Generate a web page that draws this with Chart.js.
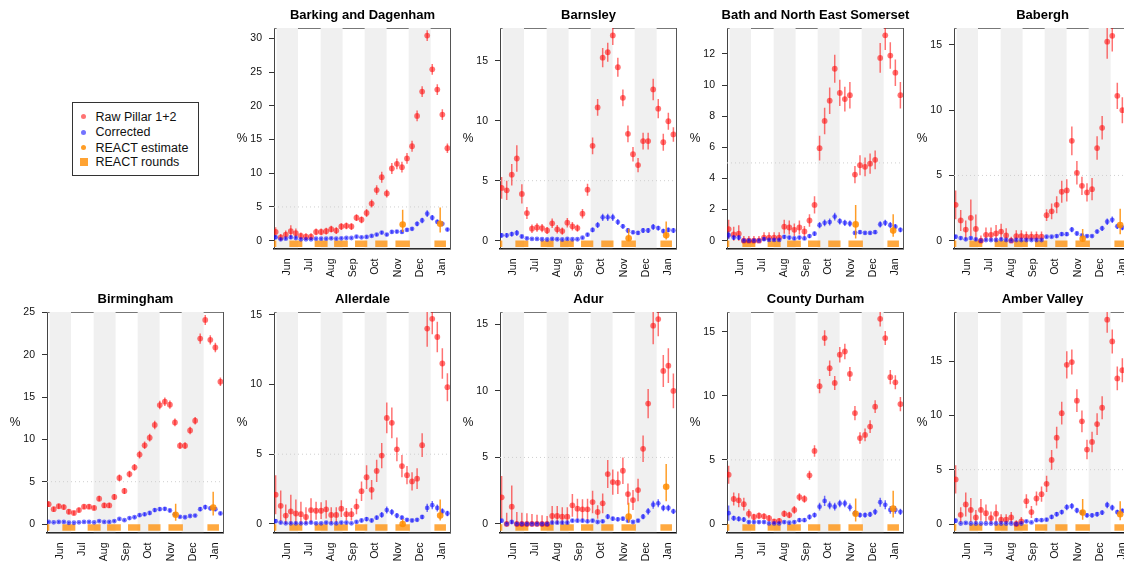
<!DOCTYPE html>
<html>
<head>
<meta charset="utf-8">
<script src="https://cdn.jsdelivr.net/npm/chart.js@4.4.1/dist/chart.umd.min.js"></script>
<style>
  body { margin: 0; width: 1124px; height: 563px; overflow: hidden; background: #fff; position: relative;
         font-family: 'Liberation Sans', Arial, Helvetica, sans-serif; }
  .cell { position: absolute; width: 227px; height: 279px; }
  .ttl { position: absolute; left: 35.5px; width: 200px; top: 7px; height: 16px; line-height: 16px; text-align: center;
         font-size: 13px; font-weight: bold; color: #000; white-space: nowrap; }
  #legend { position: absolute; left: 71.5px; top: 101.5px; width: 127px; height: 74px; border: 1px solid #333;
            box-sizing: border-box; font-size: 12.5px; color: #111; }
  .item { position: absolute; left: 23px; line-height: 14px; white-space: nowrap; }
  .mark { position: absolute; left: -15px; top: 4.5px; width: 5px; height: 5px; border-radius: 50%; }
  .sq { left: -16px; top: 2.5px; width: 8px; height: 8px; border-radius: 0; }
</style>
</head>
<body>
<div id="legend">
  <div class="item" style="top:7px"><span class="mark" style="background:rgba(255,0,0,0.55)"></span>Raw Pillar 1+2</div>
  <div class="item" style="top:22.5px"><span class="mark" style="background:rgba(0,0,255,0.55)"></span>Corrected</div>
  <div class="item" style="top:38px"><span class="mark" style="background:rgba(255,140,0,0.85)"></span>REACT estimate</div>
  <div class="item" style="top:52.5px"><span class="mark sq" style="background:rgba(255,140,0,0.8)"></span>REACT rounds</div>
</div>
<script>
// weekly sample dates (x of raw + corrected points)
const weeks = ['2020-05-31','2020-06-07','2020-06-14','2020-06-21','2020-06-28','2020-07-05','2020-07-12',
  '2020-07-19','2020-07-26','2020-08-02','2020-08-09','2020-08-16','2020-08-23','2020-08-30','2020-09-06',
  '2020-09-13','2020-09-20','2020-09-27','2020-10-04','2020-10-11','2020-10-18','2020-10-25','2020-11-01',
  '2020-11-08','2020-11-15','2020-11-22','2020-11-29','2020-12-06','2020-12-13','2020-12-20','2020-12-27',
  '2021-01-03','2021-01-10','2021-01-17','2021-01-24'];
const monthStarts = ['2020-06-01','2020-07-01','2020-08-01','2020-09-01','2020-10-01','2020-11-01','2020-12-01','2021-01-01','2021-02-01'];
const monthNames = ['Jun','Jul','Aug','Sep','Oct','Nov','Dec','Jan'];
const roundStart = ['2020-05-01','2020-06-19','2020-07-24','2020-08-20','2020-09-18','2020-10-16','2020-11-13','2021-01-06'];
const roundEnd   = ['2020-06-01','2020-07-07','2020-08-11','2020-09-08','2020-10-05','2020-11-02','2020-12-03','2021-01-22'];
const estDates = ['2020-11-23','2021-01-14'];

// Barking and Dagenham
const rawBarking = [1.3,0.5,0.9,1.4,1.1,0.7,0.6,0.6,1.3,1.3,1.4,1.7,1.5,2.1,2.2,2.1,3.4,3.1,4.1,5.5,7.5,9.4,7.0,10.7,11.4,10.9,12.2,14.0,18.5,22.1,30.4,25.4,22.4,18.7,13.7];
const rawErrBarking = [0.7,0.5,0.6,0.9,0.7,0.5,0.5,0.5,0.5,0.5,0.5,0.5,0.5,0.5,0.5,0.5,0.5,0.5,0.6,0.6,0.7,0.8,0.6,0.8,0.8,0.8,0.8,0.8,0.8,0.8,0.8,0.8,0.8,0.8,0.7];
const corBarking = [0.5,0.2,0.3,0.5,0.4,0.2,0.2,0.2,0.3,0.3,0.3,0.35,0.3,0.35,0.4,0.4,0.6,0.5,0.55,0.7,0.9,1.2,0.9,1.3,1.35,1.3,1.6,1.75,2.5,3.0,4.0,3.4,2.8,2.5,1.65];
const corErrBarking = [0.3,0.15,0.15,0.25,0.2,0.15,0.1,0.1,0.15,0.15,0.15,0.15,0.15,0.15,0.15,0.15,0.2,0.15,0.2,0.2,0.2,0.25,0.2,0.25,0.25,0.25,0.25,0.25,0.35,0.4,0.5,0.4,0.35,0.35,0.25];
const estBarking = [2.4,2.5], estLoBarking = [1.3,1.2], estHiBarking = [4.6,4.9];

// Barnsley
const rawBarnsley = [4.4,4.2,5.5,6.85,3.9,2.3,1.0,1.1,1.05,0.85,1.45,0.95,0.8,1.5,1.2,1.05,2.25,4.25,7.9,11.1,15.25,15.7,17.1,14.45,11.9,8.9,7.2,6.3,8.3,8.3,12.6,11.0,8.2,9.95,8.85];
const rawErrBarnsley = [0.9,0.8,0.9,1.1,0.8,0.5,0.35,0.35,0.35,0.3,0.4,0.35,0.3,0.4,0.35,0.3,0.4,0.5,0.7,0.7,0.8,0.8,0.8,0.8,0.7,0.7,0.6,0.6,0.7,0.7,0.9,0.8,0.7,0.7,0.6];
const corBarnsley = [0.45,0.45,0.55,0.65,0.35,0.2,0.15,0.15,0.12,0.1,0.15,0.12,0.1,0.15,0.12,0.12,0.25,0.5,0.9,1.3,1.95,1.95,1.95,1.55,1.2,0.85,0.7,0.65,0.85,0.85,1.15,1.05,0.8,0.9,0.85];
const corErrBarnsley = [0.2,0.2,0.2,0.25,0.15,0.1,0.08,0.08,0.08,0.08,0.1,0.08,0.08,0.1,0.08,0.08,0.1,0.15,0.2,0.25,0.3,0.3,0.3,0.25,0.2,0.2,0.15,0.15,0.2,0.2,0.25,0.2,0.2,0.2,0.2];
const estBarnsley = [0.2,0.45], estLoBarnsley = [0.0,0.1], estHiBarnsley = [1.0,1.6];

// Bath and North East Somerset
const rawBath = [0.75,0.4,0.45,0.0,0.0,0.0,0.0,0.2,0.2,0.2,0.2,0.9,0.85,0.7,0.85,0.6,1.3,2.3,5.95,7.7,9.0,11.05,9.5,9.1,9.35,4.25,4.85,4.75,4.95,5.2,11.75,13.2,11.9,10.8,9.35];
const rawErrBath = [0.6,0.5,0.55,0.3,0.3,0.3,0.3,0.35,0.35,0.35,0.35,0.45,0.45,0.4,0.45,0.35,0.4,0.55,0.8,0.85,0.85,0.9,0.85,0.8,0.85,0.55,0.65,0.6,0.65,0.6,0.95,0.95,0.85,0.85,0.85];
const corBath = [0.35,0.2,0.2,0.0,0.0,0.0,0.0,0.1,0.05,0.05,0.05,0.25,0.2,0.15,0.2,0.15,0.3,0.45,1.0,1.15,1.2,1.55,1.25,1.15,1.1,0.5,0.55,0.5,0.5,0.55,1.05,1.15,1.0,0.9,0.7];
const corErrBath = [0.25,0.15,0.15,0.1,0.1,0.1,0.1,0.1,0.08,0.08,0.08,0.12,0.12,0.1,0.12,0.1,0.12,0.15,0.2,0.22,0.22,0.25,0.2,0.2,0.2,0.1,0.12,0.1,0.1,0.12,0.2,0.2,0.2,0.18,0.15];
const estBath = [1.05,0.65], estLoBath = [0.15,0.25], estHiBath = [2.3,1.7];

// Babergh
const rawBabergh = [2.75,1.55,0.85,1.75,0.9,0.0,0.45,0.45,0.55,0.7,0.4,0.0,0.35,0.35,0.3,0.3,0.3,0.3,1.95,2.25,2.75,3.75,3.85,7.65,5.2,4.2,3.7,3.95,7.1,8.65,15.25,15.7,11.1,10.0,8.8];
const rawErrBabergh = [1.1,0.8,0.7,1.4,1.1,0.4,0.55,0.55,0.65,0.6,0.55,0.3,0.45,0.45,0.4,0.4,0.4,0.4,0.45,0.6,0.65,0.85,0.85,1.1,0.9,0.7,0.7,0.85,0.9,0.9,1.3,1.2,1.0,1.0,1.0];
const corBabergh = [0.3,0.2,0.1,0.2,0.1,0.0,0.05,0.05,0.05,0.1,0.05,0.0,0.05,0.05,0.05,0.05,0.05,0.05,0.3,0.3,0.35,0.5,0.5,0.85,0.55,0.4,0.35,0.35,0.7,0.95,1.45,1.6,1.1,1.0,0.9];
const corErrBabergh = [0.15,0.12,0.08,0.12,0.08,0.05,0.05,0.05,0.05,0.08,0.05,0.05,0.05,0.05,0.05,0.05,0.05,0.05,0.1,0.1,0.12,0.15,0.15,0.2,0.15,0.12,0.1,0.1,0.15,0.2,0.25,0.25,0.2,0.2,0.2];
const estBabergh = [0.15,1.2], estLoBabergh = [0.0,0.5], estHiBabergh = [0.9,2.45];

// Birmingham
const rawBirmingham = [2.35,1.75,2.1,2.0,1.45,1.3,1.65,2.05,2.05,1.9,3.0,2.2,2.2,3.2,5.45,3.9,5.9,6.7,8.2,9.3,10.2,11.7,14.05,14.45,14.1,12.0,9.25,9.25,11.05,12.2,21.9,24.1,21.75,20.85,16.8];
const rawErrBirmingham = [0.35,0.3,0.3,0.3,0.3,0.25,0.3,0.3,0.3,0.3,0.35,0.3,0.3,0.35,0.4,0.35,0.4,0.4,0.45,0.45,0.45,0.5,0.5,0.5,0.5,0.45,0.4,0.4,0.45,0.45,0.6,0.6,0.55,0.55,0.5];
const corBirmingham = [0.25,0.2,0.25,0.25,0.15,0.15,0.2,0.25,0.25,0.2,0.35,0.25,0.25,0.35,0.6,0.45,0.7,0.8,1.05,1.15,1.3,1.65,1.75,1.8,1.6,1.15,0.85,0.8,0.95,1.0,1.75,2.0,1.85,1.75,1.25];
const corErrBirmingham = [0.1,0.08,0.1,0.1,0.08,0.08,0.08,0.1,0.1,0.08,0.12,0.1,0.1,0.12,0.15,0.12,0.15,0.15,0.18,0.2,0.2,0.22,0.22,0.22,0.2,0.18,0.15,0.15,0.15,0.15,0.25,0.28,0.25,0.25,0.2];
const estBirmingham = [1.1,1.95], estLoBirmingham = [0.4,1.0], estHiBirmingham = [2.4,3.8];

// Allerdale
const rawAllerdale = [2.1,1.3,0.6,0.9,0.75,0.7,0.5,1.0,0.95,0.95,1.05,0.65,0.65,1.1,0.7,0.7,1.25,2.35,3.35,2.45,3.8,4.9,7.6,7.25,5.35,4.15,3.5,3.05,3.25,5.65,14.0,14.7,13.4,11.5,9.8];
const rawErrAllerdale = [1.4,1.1,0.8,1.2,1.0,0.9,0.7,0.85,0.65,0.6,0.65,0.55,0.55,0.6,0.45,0.45,0.55,0.7,0.85,0.7,0.8,0.9,1.1,1.1,0.85,0.8,0.65,0.65,0.75,0.85,1.3,1.1,1.1,1.1,1.0];
const corAllerdale = [0.2,0.1,0.05,0.05,0.05,0.05,0.05,0.1,0.05,0.05,0.1,0.05,0.05,0.1,0.1,0.05,0.15,0.25,0.35,0.25,0.45,0.65,1.0,0.85,0.6,0.45,0.3,0.25,0.3,0.5,1.15,1.35,1.15,0.9,0.75];
const corErrAllerdale = [0.15,0.08,0.05,0.05,0.05,0.05,0.05,0.08,0.05,0.05,0.08,0.05,0.05,0.08,0.08,0.05,0.1,0.12,0.15,0.12,0.15,0.2,0.25,0.22,0.18,0.15,0.12,0.1,0.12,0.15,0.3,0.3,0.25,0.22,0.2];
const estAllerdale = [0.0,0.6], estLoAllerdale = [0.0,0.25], estHiAllerdale = [0.35,1.75];

// Adur
const rawAdur = [2.0,0.0,1.3,0.0,0.0,0.0,0.0,0.0,0.0,0.0,0.6,0.6,0.55,0.55,1.4,1.15,1.1,1.1,1.65,0.9,1.55,3.75,3.15,3.1,4.0,2.25,1.8,2.55,5.65,9.05,14.9,15.4,11.5,11.9,10.0];
const rawErrAdur = [1.6,0.85,1.6,0.9,0.85,0.8,0.75,0.7,0.65,0.6,0.75,0.75,0.7,0.7,0.85,0.75,0.75,0.8,0.85,0.5,0.75,1.05,0.95,0.85,1.0,0.8,0.75,0.85,1.0,1.1,1.4,1.3,1.2,1.3,1.3];
const corAdur = [0.25,0.0,0.15,0.0,0.0,0.0,0.0,0.0,0.0,0.0,0.1,0.1,0.1,0.1,0.25,0.25,0.25,0.2,0.25,0.15,0.2,0.55,0.4,0.35,0.4,0.25,0.15,0.25,0.55,0.95,1.45,1.55,1.2,1.2,0.95];
const corErrAdur = [0.15,0.05,0.12,0.05,0.05,0.05,0.05,0.05,0.05,0.05,0.08,0.08,0.08,0.08,0.12,0.12,0.12,0.1,0.12,0.1,0.12,0.2,0.15,0.15,0.15,0.12,0.1,0.12,0.2,0.25,0.3,0.3,0.25,0.25,0.2];
const estAdur = [0.55,2.8], estLoAdur = [0.1,1.7], estHiAdur = [1.6,4.5];

// County Durham
const rawDurham = [3.85,1.95,1.85,1.55,0.8,0.55,0.65,0.6,0.45,0.2,0.25,0.8,0.7,1.1,2.1,1.95,3.8,5.7,10.75,14.5,12.15,11.0,13.2,13.45,11.7,8.65,6.7,6.95,7.6,9.15,16.0,14.5,11.45,11.05,9.35];
const rawErrDurham = [0.7,0.5,0.55,0.5,0.35,0.25,0.25,0.25,0.25,0.2,0.2,0.25,0.25,0.3,0.3,0.3,0.35,0.45,0.55,0.6,0.6,0.55,0.6,0.6,0.55,0.55,0.45,0.5,0.5,0.5,0.6,0.55,0.55,0.55,0.55];
const corDurham = [0.85,0.45,0.4,0.35,0.15,0.15,0.15,0.15,0.05,0.05,0.05,0.15,0.1,0.15,0.3,0.3,0.55,0.7,1.35,1.8,1.45,1.35,1.6,1.6,1.3,0.85,0.7,0.7,0.75,0.95,1.7,1.5,1.1,1.1,0.95];
const corErrDurham = [0.6,0.2,0.2,0.2,0.1,0.1,0.1,0.1,0.08,0.08,0.08,0.1,0.08,0.1,0.15,0.15,0.2,0.2,0.3,0.4,0.3,0.3,0.3,0.3,0.3,0.25,0.2,0.2,0.2,0.25,0.35,0.35,0.3,0.3,0.25];
const estDurham = [0.8,1.2], estLoDurham = [0.2,0.5], estHiDurham = [2.0,2.6];

// Amber Valley
const rawAmber = [4.1,0.85,1.8,1.3,0.6,1.3,1.0,0.55,0.95,0.4,0.4,0.6,0.0,0.25,2.1,1.1,2.35,2.75,3.7,5.9,7.95,10.2,14.65,14.9,11.35,9.45,6.85,7.55,9.2,10.7,18.8,16.8,13.4,14.15,12.5];
const rawErrAmber = [1.3,0.7,1.1,1.1,0.7,1.0,0.8,0.6,0.85,0.5,0.5,0.5,0.35,0.4,0.65,0.55,0.65,0.7,0.75,0.9,1.0,1.05,1.25,1.15,1.05,1.0,0.9,0.95,1.0,1.05,1.2,1.1,1.1,1.1,1.0];
const corAmber = [0.3,0.05,0.1,0.05,0.05,0.05,0.05,0.05,0.05,0.05,0.05,0.05,0.0,0.05,0.25,0.15,0.35,0.35,0.4,0.65,0.9,1.1,1.55,1.65,1.25,1.05,0.8,0.8,0.9,1.05,1.75,1.5,1.1,1.2,1.0];
const corErrAmber = [0.2,0.05,0.08,0.05,0.05,0.05,0.05,0.05,0.05,0.05,0.05,0.05,0.03,0.05,0.12,0.08,0.15,0.15,0.15,0.2,0.2,0.22,0.28,0.28,0.25,0.22,0.2,0.2,0.2,0.22,0.3,0.28,0.22,0.22,0.2];
const estAmber = [1.05,0.9], estLoAmber = [0.4,0.35], estHiAmber = [2.3,2.1];

const panels = [
  { title: 'Barking and Dagenham', col: 1, row: 0, raw: rawBarking, rawErr: rawErrBarking, cor: corBarking, corErr: corErrBarking,
    est: estBarking, estLo: estLoBarking, estHi: estHiBarking, yTicks: [0,5,10,15,20,25,30], yMin: -1.16, yMax: 31.53 },
  { title: 'Barnsley', col: 2, row: 0, raw: rawBarnsley, rawErr: rawErrBarnsley, cor: corBarnsley, corErr: corErrBarnsley,
    est: estBarnsley, estLo: estLoBarnsley, estHi: estHiBarnsley, yTicks: [0,5,10,15], yMin: -0.65, yMax: 17.72 },
  { title: 'Bath and North East Somerset', col: 3, row: 0, raw: rawBath, rawErr: rawErrBath, cor: corBath, corErr: corErrBath,
    est: estBath, estLo: estLoBath, estHi: estHiBath, yTicks: [0,2,4,6,8,10,12], yMin: -0.5, yMax: 13.67 },
  { title: 'Babergh', col: 4, row: 0, raw: rawBabergh, rawErr: rawErrBabergh, cor: corBabergh, corErr: corErrBabergh,
    est: estBabergh, estLo: estLoBabergh, estHi: estHiBabergh, yTicks: [0,5,10,15], yMin: -0.6, yMax: 16.3 },
  { title: 'Birmingham', col: 0, row: 1, raw: rawBirmingham, rawErr: rawErrBirmingham, cor: corBirmingham, corErr: corErrBirmingham,
    est: estBirmingham, estLo: estLoBirmingham, estHi: estHiBirmingham, yTicks: [0,5,10,15,20,25], yMin: -1.0, yMax: 25.04 },
  { title: 'Allerdale', col: 1, row: 1, raw: rawAllerdale, rawErr: rawErrAllerdale, cor: corAllerdale, corErr: corErrAllerdale,
    est: estAllerdale, estLo: estLoAllerdale, estHi: estHiAllerdale, yTicks: [0,5,10,15], yMin: -0.61, yMax: 15.19 },
  { title: 'Adur', col: 2, row: 1, raw: rawAdur, rawErr: rawErrAdur, cor: corAdur, corErr: corErrAdur,
    est: estAdur, estLo: estLoAdur, estHi: estHiAdur, yTicks: [0,5,10,15], yMin: -0.64, yMax: 15.93 },
  { title: 'County Durham', col: 3, row: 1, raw: rawDurham, rawErr: rawErrDurham, cor: corDurham, corErr: corErrDurham,
    est: estDurham, estLo: estLoDurham, estHi: estHiDurham, yTicks: [0,5,10,15], yMin: -0.66, yMax: 16.53 },
  { title: 'Amber Valley', col: 4, row: 1, raw: rawAmber, rawErr: rawErrAmber, cor: corAmber, corErr: corErrAmber,
    est: estAmber, estLo: estLoAmber, estHi: estHiAmber, yTicks: [0,5,10,15], yMin: -0.78, yMax: 19.51 },
];

const FONT = "'Liberation Sans', Arial, Helvetica, sans-serif";
Chart.defaults.font.family = FONT;

const day = s => (Date.parse(s) - Date.parse('2020-06-01')) / 864e5;
const xMin = -3.3, xMax = 240.6;
const weekX = weeks.map(day);
const mStart = monthStarts.map(day);
const monthMid = monthNames.map((m, i) => (mStart[i] + mStart[i + 1]) / 2);

const RED = 'rgba(255,0,0,0.55)', BLUE = 'rgba(0,0,255,0.55)', ORANGE = 'rgba(255,140,0,0.85)';

function errSegs(xs, lo, hi) {
  const pts = [];
  xs.forEach((x, i) => { pts.push({ x, y: lo[i] }, { x, y: hi[i] }, { x, y: null }); });
  return pts;
}

// keep every chart area exactly where the layout puts it (no label overhang padding)
function noPad(s) { s.paddingLeft = 0; s.paddingRight = 0; s.paddingTop = 0; s.paddingBottom = 0; }

const percentLabel = {
  id: 'percentLabel',
  afterDraw(chart) {
    const { ctx, chartArea: a } = chart;
    ctx.save();
    ctx.font = '12px ' + FONT;
    ctx.fillStyle = '#111';
    ctx.textAlign = 'center';
    ctx.textBaseline = 'middle';
    ctx.fillText('%', a.left - 32, (a.top + a.bottom) / 2);
    ctx.restore();
  }
};

panels.forEach(p => {
  const cell = document.createElement('div');
  cell.className = 'cell';
  cell.style.left = Math.round(p.col * 226.67) + 'px';
  cell.style.top = (p.row * 284) + 'px';
  const ttl = document.createElement('div');
  ttl.className = 'ttl';
  ttl.textContent = p.title;
  const cv = document.createElement('canvas');
  cv.width = 227; cv.height = 279;
  cell.appendChild(cv);
  cell.appendChild(ttl);
  document.body.appendChild(cell);

  const datasets = [];
  // grey bands for alternate months
  monthNames.forEach((m, i) => {
    if (i % 2) return;
    datasets.push({ data: [{ x: Math.max(mStart[i], xMin), y: p.yMax }, { x: mStart[i + 1], y: p.yMax }],
      fill: 'start', backgroundColor: '#f0f0f0', borderWidth: 0, pointRadius: 0, order: 9 });
  });
  // dotted 5% reference
  datasets.push({ data: [{ x: xMin, y: 5 }, { x: xMax, y: 5 }], borderColor: '#cfcfcf', borderWidth: 1,
    borderDash: [1, 3], pointRadius: 0, order: 8 });
  // REACT rounds
  const rounds = [];
  const yb = p.yMin * 0.4;
  roundStart.forEach((s, i) => { rounds.push({ x: day(s), y: yb }, { x: day(roundEnd[i]), y: yb }, { x: day(roundEnd[i]), y: null }); });
  datasets.push({ data: rounds, borderColor: 'rgba(255,140,0,0.75)', borderWidth: 6.5, borderCapStyle: 'butt',
    pointRadius: 0, clip: 0, order: 7 });
  // raw pillar 1+2
  datasets.push({ data: errSegs(weekX, p.raw.map((v, i) => Math.max(0, v - p.rawErr[i])), p.raw.map((v, i) => v + p.rawErr[i])),
    borderColor: RED, borderWidth: 1.5, pointRadius: 0, order: 6 });
  datasets.push({ data: weekX.map((x, i) => ({ x, y: p.raw[i] })), showLine: false, pointRadius: 2.9,
    pointBackgroundColor: RED, pointBorderWidth: 0, order: 5 });
  // corrected
  datasets.push({ data: errSegs(weekX, p.cor.map((v, i) => Math.max(0, v - p.corErr[i])), p.cor.map((v, i) => v + p.corErr[i])),
    borderColor: BLUE, borderWidth: 1.5, pointRadius: 0, order: 4 });
  datasets.push({ data: weekX.map((x, i) => ({ x, y: p.cor[i] })), showLine: false, pointRadius: 2.4,
    pointBackgroundColor: BLUE, pointBorderWidth: 0, order: 3 });
  // REACT estimate
  const ex = estDates.map(day);
  datasets.push({ data: errSegs(ex, p.estLo, p.estHi), borderColor: ORANGE, borderWidth: 1.5, pointRadius: 0, order: 2 });
  datasets.push({ data: ex.map((x, i) => ({ x, y: p.est[i] })), showLine: false, pointRadius: 3.3,
    pointBackgroundColor: ORANGE, pointBorderWidth: 0, order: 1 });

  new Chart(cv, {
    type: 'line',
    data: { datasets },
    plugins: [percentLabel],
    options: {
      responsive: false,
      animation: false,
      events: [],
      layout: { padding: { left: 0, right: 3, top: 28, bottom: 0 } },
      plugins: {
        legend: { display: false },
        tooltip: { enabled: false },
      },
      scales: {
        x: {
          type: 'linear', min: xMin, max: xMax, position: 'bottom',
          afterBuildTicks: s => { s.ticks = monthMid.map(v => ({ value: v })); },
          afterFit: s => { s.height = 30.5; noPad(s); },
          ticks: { autoSkip: false, minRotation: 90, maxRotation: 90, padding: 10, color: '#111',
            font: { size: 10.5 }, callback: (v, i) => monthNames[i] },
          grid: { display: false, drawTicks: false },
          border: { color: '#111', width: 1.6 },
        },
        y: {
          type: 'linear', min: p.yMin, max: p.yMax, position: 'left',
          afterBuildTicks: s => { s.ticks = p.yTicks.map(v => ({ value: v })); },
          afterFit: s => { s.width = 47; noPad(s); },
          ticks: { padding: 7, color: '#111', font: { size: 10.5 } },
          grid: { drawOnChartArea: false, drawTicks: true, tickLength: 5, color: '#333' },
          border: { color: '#444', width: 1 },
        },
        xTop: {
          type: 'linear', min: xMin, max: xMax, position: 'top', display: true,
          afterFit: s => { s.height = 0; noPad(s); },
          ticks: { display: false }, grid: { display: false, drawTicks: false },
          border: { color: '#777', width: 1 },
        },
        yRight: {
          type: 'linear', min: 0, max: 1, position: 'right', display: true,
          afterFit: s => { s.width = 0; noPad(s); },
          ticks: { display: false }, grid: { display: false, drawTicks: false },
          border: { color: '#555', width: 1 },
        },
      },
    },
  });
});
</script>
</body>
</html>
